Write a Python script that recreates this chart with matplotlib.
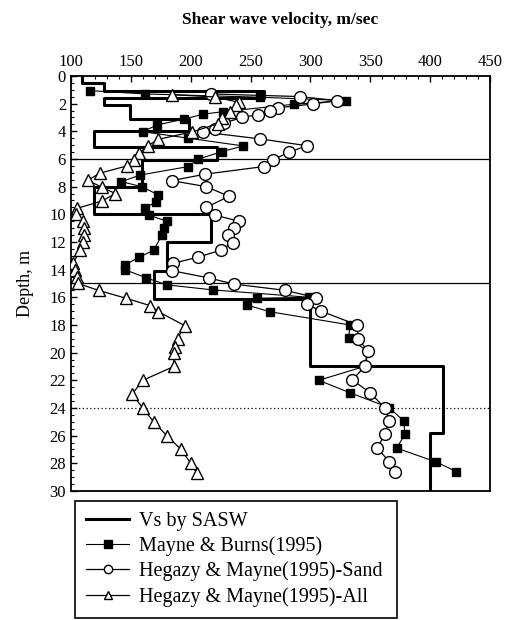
import matplotlib
matplotlib.use('Agg')
import matplotlib.pyplot as plt
from matplotlib.ticker import MultipleLocator

plt.rcParams['font.family'] = ['Liberation Serif', 'DejaVu Serif']

# --- Vs by SASW: layer tops (m) and velocity (m/sec), bottom at 30 m
sasw_top = [0, 0.5, 1.1, 1.6, 2.1, 3.1, 4.0, 5.1, 6.1, 8.0, 10.0, 12.0, 14.1, 16.1, 21.0, 25.8]
sasw_vs = [109, 128, 261, 128, 149, 199, 119, 222, 159, 119, 217, 180, 169, 300, 411, 400]
sasw_bottom = 30

# --- Mayne & Burns (1995)
mb_depth = [1.06, 1.3, 1.54, 1.78, 2.05, 2.58, 2.77, 3.13, 3.54, 4.03, 4.5, 5.06, 5.47, 6.02,
            6.55, 7.16, 7.64, 8.0, 8.6, 9.09, 9.57, 10.05, 10.5, 11.0, 11.5, 12.6, 13.1, 13.67,
            14.0, 14.6, 15.1, 15.47, 16.0, 16.07, 16.56, 17.04, 18.0, 18.97, 19.9, 21.0, 22.0,
            22.9, 23.98, 24.95, 25.9, 26.9, 27.9, 28.6]
mb_vs = [116, 162, 258, 330, 286, 227, 210, 194, 172, 160, 198, 244, 226, 206,
         198, 158, 142, 159, 173, 171, 162, 165, 180, 178, 176, 169, 157, 145,
         145, 163, 180, 219, 299, 255, 247, 266, 333, 332, 348, 345, 307,
         333, 366, 378, 379, 372, 405, 422]

# --- Hegazy & Mayne (1995) - Sand
hs_depth = [1.3, 1.49, 1.78, 2.03, 2.3, 2.55, 2.8, 3.0, 3.4, 3.8, 4.05, 4.55, 5.04, 5.52,
            6.05, 6.55, 7.1, 7.57, 8.0, 8.7, 9.5, 10.05, 10.5, 11.0, 11.5, 12.05, 12.6, 13.1,
            13.55, 14.07, 14.6, 15.04, 15.5, 16.03, 16.5, 17.0, 18.0, 19.0, 19.9, 20.95, 21.98,
            22.9, 23.98, 24.95, 25.9, 26.9, 27.9, 28.6]
hs_vs = [217, 291, 322, 302, 273, 266, 256, 243, 228, 220, 210, 258, 297, 282,
         269, 261, 212, 184, 213, 232, 213, 220, 240, 236, 231, 235, 225, 206,
         185, 184, 215, 236, 279, 305, 297, 309, 339, 340, 348, 346, 335,
         350, 362, 366, 362, 356, 366, 371]

# --- Hegazy & Mayne (1995) - All
ha_depth = [1.35, 1.52, 1.9, 2.12, 2.6, 3.04, 3.45, 4.05, 4.58, 5.05, 5.58, 6.07, 6.5, 7.03,
            7.55, 8.05, 8.5, 9.04, 9.57, 9.98, 10.5, 11.0, 11.5, 12.0, 12.6, 13.5, 14.0, 14.5,
            15.0, 15.5, 16.07, 16.6, 17.04, 18.05, 19.0, 19.6, 20.05, 21.0, 22.0, 23.0, 24.0,
            25.0, 26.0, 27.0, 28.0, 28.7]
ha_vs = [184, 220, 240, 238, 233, 226, 223, 201, 173, 164, 157, 153, 147, 124,
         114, 126, 137, 126, 105, 104, 110, 111, 111, 110, 107.5, 102, 103, 105,
         106, 123, 146, 166, 173, 195, 189, 187, 186, 186, 160, 151, 160,
         169, 180, 192, 200, 205]

# reference depths
solid_lines = [6, 15]
dotted_lines = [24]

fig = plt.figure(figsize=(5.07, 6.2), dpi=100)
ax = fig.add_axes([0.140, 0.2081, 0.8264, 0.6694])

# step profile for SASW
px, py = [], []
bottoms = sasw_top[1:] + [sasw_bottom]
for v, t, b in zip(sasw_vs, sasw_top, bottoms):
    px += [v, v]
    py += [t, b]

for d in solid_lines:
    ax.axhline(d, color='black', lw=0.9, zorder=1)
for d in dotted_lines:
    ax.axhline(d, color='black', lw=0.9, ls=(0, (1, 2)), zorder=1)

ax.plot(px, py, color='black', lw=2.2, label='Vs by SASW', zorder=2)
ax.plot(mb_vs, mb_depth, color='black', lw=0.8, marker='s', ms=6,
        mfc='black', mec='black', label='Mayne & Burns(1995)', zorder=3)
ax.plot(hs_vs, hs_depth, color='black', lw=0.9, marker='o', ms=8.5,
        mfc='white', mec='black', mew=1.0, label='Hegazy & Mayne(1995)-Sand', zorder=4)
ax.plot(ha_vs, ha_depth, color='black', lw=0.9, marker='^', ms=8,
        mfc='white', mec='black', mew=1.0, label='Hegazy & Mayne(1995)-All', zorder=5)

ax.set_xlim(100, 450)
ax.set_ylim(30, 0)
ax.xaxis.tick_top()
ax.xaxis.set_major_locator(MultipleLocator(50))
ax.xaxis.set_minor_locator(MultipleLocator(10))
ax.yaxis.set_major_locator(MultipleLocator(2))
ax.yaxis.set_minor_locator(MultipleLocator(0.5))
ax.tick_params(which='both', direction='in', top=True, bottom=False, right=False,
               labelsize=12, color='black')
ax.tick_params(which='major', length=4, width=1)
ax.tick_params(which='minor', length=2, width=0.8)
ax.tick_params(axis='x', pad=4)
for s in ax.spines.values():
    s.set_linewidth(1.3)

ax.set_ylabel('Depth, m', fontsize=13, labelpad=11)

fig.text(0.553, 0.967, 'Shear wave velocity, m/sec', ha='center', va='center',
         fontsize=12.5, fontweight='bold')

leg = fig.legend(loc='upper left', bbox_to_anchor=(0.148, 0.01, 0.635, 0.182),
                 mode='expand', borderaxespad=0, fontsize=14.5, frameon=True,
                 fancybox=False, edgecolor='black', framealpha=1, handlelength=2.15,
                 handletextpad=0.5, labelspacing=0.27, borderpad=0.55)
leg.get_frame().set_linewidth(1.2)
for h in leg.legend_handles:
    h.set_markersize(6)

fig.savefig('out.png', dpi=100)
